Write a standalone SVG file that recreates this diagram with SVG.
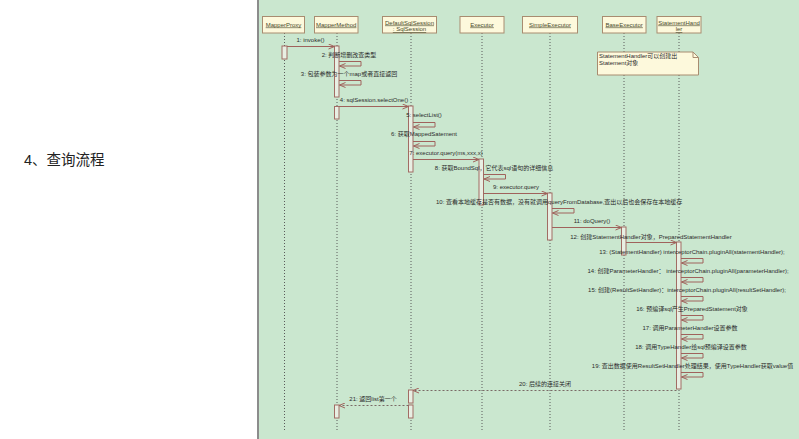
<svg xmlns="http://www.w3.org/2000/svg" width="799" height="439" viewBox="0 0 799 439">
<defs>
<style>
text{font-family:"Liberation Sans","Noto Sans CJK SC",sans-serif;fill:#2b2b2b;}
.title{font-size:14.5px;fill:#222;}
.head rect{fill:#fdf9dc;stroke:#a88c70;stroke-width:1;}
.head text{font-size:6px;text-anchor:middle;text-decoration:underline;fill:#4a4a2a;}
.life{stroke:#5a5a5a;stroke-width:1;stroke-dasharray:1 2;}
.act{fill:#e8efe3;stroke:#a26c64;stroke-width:1;}
.msg{stroke:#a0625c;stroke-width:1;fill:none;}
.ret{stroke:#7a6a66;stroke-width:1;fill:none;stroke-dasharray:2 2;}
.lbl{font-size:6px;text-anchor:middle;}
.lbs{font-size:6px;}
.note{fill:#fdf9dc;stroke:#a88c70;stroke-width:1;}
</style>
<marker id="ah" markerWidth="7" markerHeight="6" refX="6.5" refY="3" orient="auto" markerUnits="userSpaceOnUse">
<path d="M0.5,0.5 L6.5,3 L0.5,5.5" fill="none" stroke="#a0625c" stroke-width="1"/>
</marker>
<marker id="rh" markerWidth="7" markerHeight="6" refX="6.5" refY="3" orient="auto" markerUnits="userSpaceOnUse">
<path d="M0.5,0.5 L6.5,3 L0.5,5.5" fill="none" stroke="#a0625c" stroke-width="1"/>
</marker>
</defs>
<rect x="0" y="0" width="799" height="439" fill="#ffffff"/>
<text class="title" x="24" y="165">4、查询流程</text>
<rect x="257" y="0" width="542" height="439" fill="#cae7cf"/>
<rect x="257" y="0" width="2" height="439" fill="#8c8c8c"/>

<g id="lifelines">
<line class="life" x1="284.5" y1="33" x2="284.5" y2="431"/>
<line class="life" x1="337" y1="33" x2="337" y2="431"/>
<line class="life" x1="411" y1="33" x2="411" y2="431"/>
<line class="life" x1="482" y1="33" x2="482" y2="431"/>
<line class="life" x1="550" y1="33" x2="550" y2="431"/>
<line class="life" x1="624" y1="33" x2="624" y2="431"/>
<line class="life" x1="679" y1="33" x2="679" y2="431"/>
</g>

<g id="MapperProxy" class="head"><rect x="262.5" y="16.5" width="42" height="16.5"/><text x="283.5" y="26.5">MapperProxy</text></g>
<g id="MapperMethod" class="head"><rect x="314.5" y="16.5" width="43.5" height="16.5"/><text x="336.2" y="26.5">MapperMethod</text></g>
<g id="DefaultSqlSession" class="head"><rect x="382.5" y="16.5" width="54" height="16.5"/><text x="409.5" y="24.5">DefaultSqlSession</text><text x="409.5" y="31">: SqlSession</text></g>
<g id="Executor" class="head"><rect x="460" y="16.5" width="44" height="16.5"/><text x="482" y="26.5">Executor</text></g>
<g id="SimpleExecutor" class="head"><rect x="522.5" y="16.5" width="55" height="16.5"/><text x="550" y="26.5">SimpleExecutor</text></g>
<g id="BaseExecutor" class="head"><rect x="602.5" y="16.5" width="43.5" height="16.5"/><text x="624.2" y="26.5">BaseExecutor</text></g>
<g id="StatementHandler" class="head"><rect x="657" y="16.5" width="44" height="16.5"/><text x="679" y="24.5">StatementHand</text><text x="679" y="31">ler</text></g>

<g id="note">
<path class="note" d="M597.5,52 L693,52 L698.5,57.5 L698.5,75 L597.5,75 Z"/>
<path d="M693,52 L693,57.5 L698.5,57.5" fill="none" stroke="#a88c70" stroke-width="1"/>
<text class="lbs" x="599" y="58">StatementHandler可以创建出</text>
<text class="lbs" x="599" y="65">Statement对象</text>
</g>

<g id="activations">
<rect class="act" x="282" y="46" width="5" height="13"/>
<rect class="act" x="334.5" y="46" width="4.5" height="51"/>
<rect class="act" x="334.5" y="106.5" width="4.5" height="12.5"/>
<rect class="act" x="334.5" y="405" width="4.5" height="13"/>
<rect class="act" x="408.5" y="106" width="4.5" height="66"/>
<rect class="act" x="408.5" y="390" width="4.5" height="13"/>
<rect class="act" x="408.5" y="405" width="4.5" height="13"/>
<rect class="act" x="479" y="159" width="4.5" height="46"/>
<rect class="act" x="547.5" y="193" width="4.5" height="47"/>
<rect class="act" x="621.5" y="227" width="4.5" height="28"/>
<rect class="act" x="676.5" y="242" width="4.5" height="147"/>
</g>

<g id="connectors">
<line class="msg" x1="287" y1="46.5" x2="334.5" y2="46.5" marker-end="url(#ah)"/>
<path class="msg" d="M339,61.5 H361 V66 H339.5" marker-end="url(#ah)"/>
<path class="msg" d="M339,80.5 H361 V85 H339.5" marker-end="url(#ah)"/>
<line class="msg" x1="339" y1="106.5" x2="408.5" y2="106.5" marker-end="url(#ah)"/>
<path class="msg" d="M413,122.5 H435 V127 H413.5" marker-end="url(#ah)"/>
<path class="msg" d="M413,141.5 H435 V146 H413.5" marker-end="url(#ah)"/>
<line class="msg" x1="413" y1="159.5" x2="479" y2="159.5" marker-end="url(#ah)"/>
<path class="msg" d="M483.5,174.5 H505.5 V179 H484" marker-end="url(#ah)"/>
<line class="msg" x1="483.5" y1="193.5" x2="547.5" y2="193.5" marker-end="url(#ah)"/>
<path class="msg" d="M552,208.5 H574 V213 H552.5" marker-end="url(#ah)"/>
<line class="msg" x1="552" y1="227.5" x2="621.5" y2="227.5" marker-end="url(#ah)"/>
<line class="msg" x1="626" y1="242.5" x2="676.5" y2="242.5" marker-end="url(#ah)"/>
<path class="msg" d="M681,258.5 H703 V263 H681.5" marker-end="url(#ah)"/>
<path class="msg" d="M681,277.5 H703 V282 H681.5" marker-end="url(#ah)"/>
<path class="msg" d="M681,296.5 H703 V301 H681.5" marker-end="url(#ah)"/>
<path class="msg" d="M681,315.5 H703 V320 H681.5" marker-end="url(#ah)"/>
<path class="msg" d="M681,334.5 H703 V339 H681.5" marker-end="url(#ah)"/>
<path class="msg" d="M681,353.5 H703 V358 H681.5" marker-end="url(#ah)"/>
<path class="msg" d="M681,372.5 H703 V377 H681.5" marker-end="url(#ah)"/>
<line class="ret" x1="676.5" y1="390.5" x2="413" y2="390.5" marker-end="url(#rh)"/>
<line class="ret" x1="408.5" y1="405.5" x2="339" y2="405.5" marker-end="url(#rh)"/>
</g>

<g id="labels">
<text class="lbl" x="310.5" y="42">1: invoke()</text>
<text class="lbl" x="349" y="57">2: 判断增删改查类型</text>
<text class="lbl" x="349" y="76">3: 包装参数为一个map或者直接返回</text>
<text class="lbl" x="374" y="102">4: sqlSession.selectOne()</text>
<text class="lbl" x="424" y="117">5: selectList()</text>
<text class="lbl" x="424" y="136">6: 获取MappedSatement</text>
<text class="lbl" x="446" y="155">7: executor.query(ms,xxx,x)</text>
<text class="lbl" x="494" y="170">8: 获取BoundSql，它代表sql语句的详细信息</text>
<text class="lbl" x="516" y="189">9: executor.query</text>
<text class="lbs" x="436" y="204">10: 查看本地缓存是否有数据，没有就调用queryFromDatabase,查出以后也会保存在本地缓存</text>
<text class="lbl" x="592" y="223">11: doQuery()</text>
<text class="lbl" x="651" y="239">12: 创建StatementHandler对象，PreparedStatementHandler</text>
<text class="lbl" x="692" y="254">13: (StatementHandler) interceptorChain.pluginAll(statementHandler);</text>
<text class="lbl" x="688" y="273">14: 创建ParameterHandler： interceptorChain.pluginAll(parameterHandler);</text>
<text class="lbl" x="687" y="292">15: 创建(ResultSetHandler)：interceptorChain.pluginAll(resultSetHandler);</text>
<text class="lbl" x="692" y="311">16: 预编译sql产生PreparedStatement对象</text>
<text class="lbl" x="690" y="330">17: 调用ParameterHandler设置参数</text>
<text class="lbl" x="691" y="349">18: 调用TypeHandler给sql预编译设置参数</text>
<text class="lbl" x="692.5" y="368">19: 查出数据使用ResultSetHandler处理结果，使用TypeHandler获取value值</text>
<text class="lbl" x="545" y="386">20: 后续的连接关闭</text>
<text class="lbl" x="373" y="401">21: 返回list第一个</text>
</g>
</svg>
